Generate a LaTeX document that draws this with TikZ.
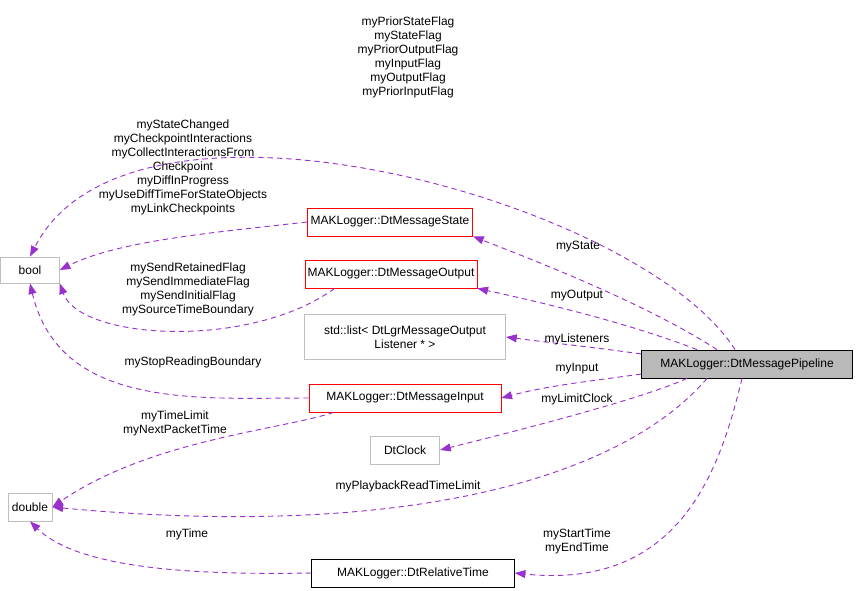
\documentclass[tikz,border=0pt]{standalone}
\usepackage{fontspec}
\setmainfont{Liberation Sans}
\usetikzlibrary{arrows.meta}
\definecolor{edge}{RGB}{153,50,204}
\definecolor{graybd}{RGB}{191,191,191}
\begin{document}
\begin{tikzpicture}[x=0.75pt,y=-0.75pt,font=\fontsize{9}{10.5}\selectfont,
 box/.style={draw,rectangle,inner sep=0pt,align=center,fill=white,line width=0.6pt},
 gbox/.style={box,draw=graybd},
 rbox/.style={box,draw=red},
 e/.style={draw=edge,dashed,dash pattern=on 4pt off 3pt,line width=0.7pt,-{Triangle[length=8pt,width=6pt]}},
 lab/.style={align=center,inner sep=0pt}]
\useasboundingbox (0,0) rectangle (859,591);
\node[gbox,minimum width=44pt*4/3*0.75/0.75*0.75,minimum height=19.5pt] (bool) at (30,270) {bool};
\node[gbox,minimum width=33pt,minimum height=21pt] (double) at (30,507) {double};
\node[rbox,minimum width=124pt,minimum height=21pt] (state) at (390,222) {MAKLogger::DtMessageState};
\node[rbox,minimum width=129pt,minimum height=21pt] (output) at (391,274) {MAKLogger::DtMessageOutput};
\node[gbox,minimum width=151pt,minimum height=34pt] (list) at (405,337) {std::list< DtLgrMessageOutput\\Listener * >};
\node[rbox,minimum width=144pt,minimum height=21pt] (input) at (405,398) {MAKLogger::DtMessageInput};
\node[gbox,minimum width=52pt,minimum height=21pt] (clock) at (405,450) {DtClock};
\node[box,minimum width=152pt,minimum height=21pt] (rel) at (413,573) {MAKLogger::DtRelativeTime};
\node[box,fill=gray!55,minimum width=158pt,minimum height=21pt] (pipe) at (747,364) {MAKLogger::DtMessagePipeline};
% edges
\draw[e] (pipe.north) ++(-12,0) .. controls (640,200) and (130,60) .. (bool.north);
\node[lab] at (408,57) {myPriorStateFlag\\myStateFlag\\myPriorOutputFlag\\myInputFlag\\myOutputFlag\\myPriorInputFlag};
\draw[e] (state.west) .. controls (220,232) and (120,240) .. (bool.east);
\node[lab] at (183,167) {myStateChanged\\myCheckpointInteractions\\myCollectInteractionsFrom\\Checkpoint\\myDiffInProgress\\myUseDiffTimeForStateObjects\\myLinkCheckpoints};
\draw[e] (output.south west) ++(30,0) .. controls (250,350) and (80,340) .. (bool.south east);
\node[lab] at (188,289) {mySendRetainedFlag\\mySendImmediateFlag\\mySendInitialFlag\\mySourceTimeBoundary};
\draw[e] (input.west) .. controls (200,398) and (60,410) .. (bool.south);
\node[lab] at (193,362) {myStopReadingBoundary};
\draw[e] (input.south west) ++(25,0) .. controls (280,430) and (150,440) .. (double.east);
\node[lab] at (175,423) {myTimeLimit\\myNextPacketTime};
\draw[e] (rel.west) .. controls (200,575) and (80,570) .. (double.south);
\node[lab] at (187,534) {myTime};
\draw[e] (pipe.north) ++(-30,0) .. controls (640,300) and (520,255) .. (state.south east);
\node[lab] at (578,247) {myState};
\draw[e] (pipe.north) ++(-50,0) .. controls (620,320) and (530,300) .. (output.south east);
\node[lab] at (577,296) {myOutput};
\draw[e] (pipe.west) ++(0,-10) .. controls (600,348) and (560,344) .. (list.east);
\node[lab] at (577,339) {myListeners};
\draw[e] (pipe.west) ++(0,10) .. controls (600,380) and (550,385) .. (input.east);
\node[lab] at (577,369) {myInput};
\draw[e] (pipe.south) ++(-60,0) .. controls (640,400) and (500,435) .. (clock.east);
\node[lab] at (577,399) {myLimitClock};
\draw[e] (pipe.south) ++(-40,0) .. controls (620,480) and (400,540) .. (double.east);
\node[lab] at (408,486) {myPlaybackReadTimeLimit};
\draw[e] (pipe.south) ++(-5,0) .. controls (720,470) and (680,590) .. (rel.east);
\node[lab] at (577,541) {myStartTime\\myEndTime};
\end{tikzpicture}
\end{document}
